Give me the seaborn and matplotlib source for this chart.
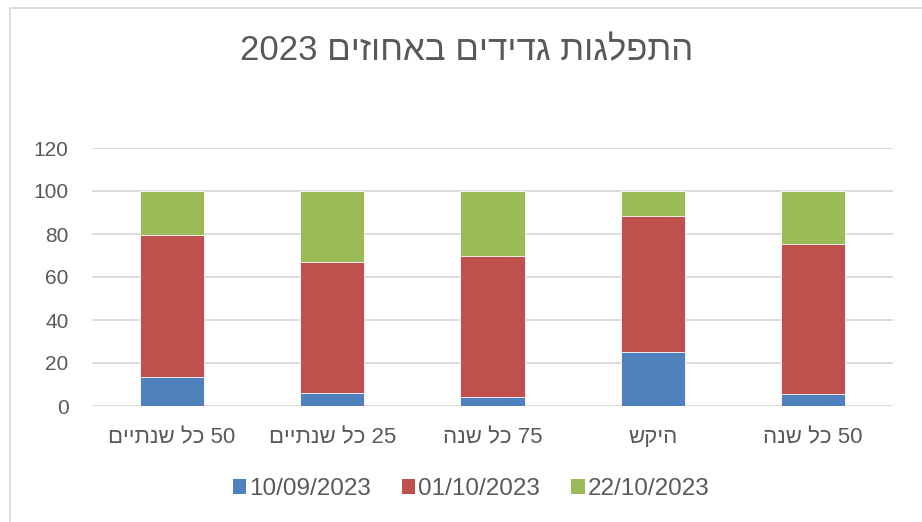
import re

import matplotlib
matplotlib.use('Agg')
import matplotlib.pyplot as plt
import pandas as pd
import seaborn as sns
from matplotlib.patches import Patch, Rectangle

# logical (right-to-left) text, reordered for display below
title = "התפלגות גדידים באחוזים 2023"
categories = ["50 כל שנתיים", "25 כל שנתיים", "75 כל שנה", "היקש", "50 כל שנה"]
dates = ["10/09/2023", "01/10/2023", "22/10/2023"]

blue_vals = [13.6, 5.9, 4.2, 25.1, 5.8]
red_vals = [65.8, 61.1, 65.6, 63.5, 69.7]
green_vals = [20.6, 33.0, 30.2, 11.4, 24.5]

colors = ["#4F81BD", "#C0504D", "#9BBB59"]
text_color = "#595959"
grid_color = "#D9D9D9"


def bidi(s):
    # matplotlib has no RTL support: flip the string, keep numbers readable
    r = s[::-1]
    return re.sub(r"\d+", lambda m: m.group(0)[::-1], r)


df = pd.DataFrame({
    "cat": [bidi(c) for c in categories],
    "s1": blue_vals,
    "s2": red_vals,
    "s3": green_vals,
})
df["top1"] = df["s1"]
df["top2"] = df["s1"] + df["s2"]
df["top3"] = df["top2"] + df["s3"]

sns.set_style("white")
plt.rcParams["font.family"] = ["Liberation Sans", "DejaVu Sans"]

fig = plt.figure(figsize=(9.22, 5.22), dpi=100)
ax = fig.add_axes([92 / 922, 116 / 522, 801 / 922, 258 / 522])

# stacked bars: draw cumulative totals from the top down
for col, color in zip(["top3", "top2", "top1"], colors[::-1]):
    sns.barplot(data=df, x="cat", y=col, color=color, saturation=1,
                width=0.4, errorbar=None, edgecolor="white",
                linewidth=0.6, ax=ax, zorder=2)

ax.set_xlim(-0.5, 4.5)
ax.set_ylim(0, 120)
ax.set_yticks(range(0, 121, 20))
ax.yaxis.grid(True, color=grid_color, linewidth=1.3)
ax.set_axisbelow(True)
for sp in ax.spines.values():
    sp.set_visible(False)
ax.set_xlabel("")
ax.set_ylabel("")
ax.tick_params(axis="both", length=0, colors=text_color)
ax.tick_params(axis="y", labelsize=15, pad=17)
ax.tick_params(axis="x", labelsize=16, pad=15)

fig.text(467 / 922, 1 - 51 / 522, bidi(title), ha="center", va="center",
         fontsize=25, color=text_color)

handles = [Patch(facecolor=c, edgecolor="none") for c in colors]
fig.legend(handles, dates, loc="center", bbox_to_anchor=(471 / 922, 1 - 489 / 522),
           ncol=3, frameon=False, fontsize=17.5, handlelength=0.55,
           handleheight=0.55, handletextpad=0.12, columnspacing=1.28,
           labelcolor=text_color)

fig.patches.append(Rectangle((10 / 922, -0.1), 1.0, 1.1 - 8 / 522, fill=False,
                             edgecolor=grid_color, linewidth=1.3,
                             transform=fig.transFigure, figure=fig))

fig.savefig("out.png", dpi=100)
